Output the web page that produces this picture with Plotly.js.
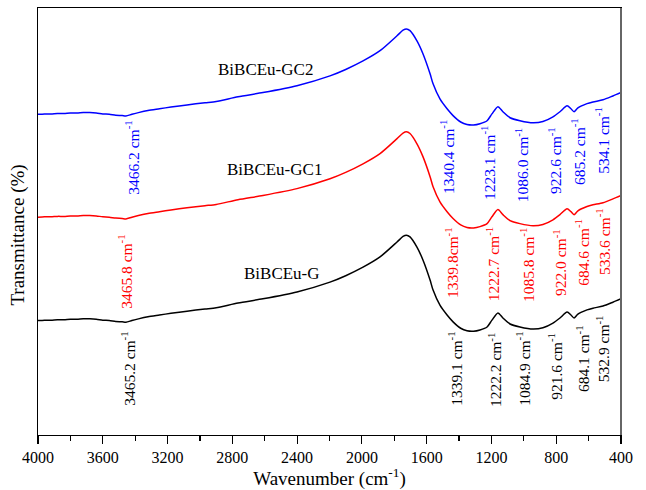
<!DOCTYPE html>
<html>
<head>
<meta charset="utf-8">
<script src="https://cdn.plot.ly/plotly-3.0.1.min.js"></script>
<style>html,body{margin:0;padding:0;background:#fff;}#chart{width:646px;height:490px;}</style>
</head>
<body>
<div id="chart"></div>
<script>
// Wavenumber grid (cm-1)
const wavenumber = [4000,3960,3920,3880,3840,3800,3760,3720,3680,3640,3600,3560,3520,3480,3457,3420,3380,3321,3250,3179,3080,2969,2900,2765,2611,2401,2197,2100,1993,1888,1783,1746,1725,1703,1660,1623,1579,1561,1518,1474,1437,1390,1351,1310,1271,1227,1197,1160,1129,1085,1024,943,882,820,777,733,709,690,666,610,573,511,450,400];

const seriesNames = ["BiBCEu-G","BiBCEu-GC1","BiBCEu-GC2"];
const seriesColors = ["#000000","#ff0000","#0000ff"];

const transG = [26.8,26.9,26.9,27.0,27.0,27.1,27.1,27.2,27.2,27.1,26.9,26.8,26.6,26.5,26.4,26.8,27.2,27.7,28.1,28.5,29.0,29.5,29.8,30.9,31.9,33.5,35.8,37.3,39.3,41.7,45.2,46.5,46.8,46.4,44.0,41.0,36.3,34.0,30.4,28.1,26.5,25.0,24.4,24.3,24.6,25.3,26.9,28.6,27.4,26.0,25.3,24.8,25.1,26.2,27.4,28.8,28.1,27.4,28.3,29.3,29.7,30.2,31.1,31.9];

const transGC1 = [51.0,51.1,51.1,51.2,51.2,51.3,51.3,51.4,51.4,51.3,51.1,51.0,50.8,50.7,50.6,51.0,51.4,51.9,52.3,52.7,53.2,53.7,54.0,55.1,56.1,57.7,60.0,61.5,63.5,65.9,69.4,70.7,71.0,70.6,68.2,65.2,60.5,58.2,54.6,52.3,50.7,49.2,48.6,48.5,48.8,49.5,51.1,52.8,51.6,50.2,49.5,49.0,49.3,50.4,51.6,53.0,52.3,51.6,52.5,53.5,53.9,54.4,55.3,56.1];

const transGC2 = [75.1,75.2,75.2,75.3,75.3,75.4,75.4,75.5,75.5,75.4,75.2,75.1,74.9,74.8,74.7,75.1,75.5,76.0,76.4,76.8,77.3,77.8,78.1,79.2,80.2,81.8,84.1,85.6,87.6,90.0,93.5,94.8,95.1,94.7,92.3,89.3,84.6,82.3,78.7,76.4,74.8,73.3,72.7,72.6,72.9,73.6,75.2,76.9,75.7,74.3,73.6,73.1,73.4,74.5,75.7,77.1,76.4,75.7,76.6,77.6,78.0,78.5,79.4,80.2];

// Peak labels (text) per series
const peaksG   = ["3465.2 cm","1339.1 cm","1222.2 cm","1084.9 cm","921.6 cm","684.1 cm","532.9 cm"];
const peaksGC1 = ["3465.8 cm","1339.8cm","1222.7 cm","1085.8 cm","922.0 cm","684.6 cm","533.6 cm"];
const peaksGC2 = ["3466.2 cm","1340.4 cm","1223.1 cm","1086.0 cm","922.6 cm","685.2 cm","534.1 cm"];

// label placement (layout only)
const posG   = [[3444,15.5],[1425,15.5],[1178,15.2],[1005,15.5],[808,16.2],[635,18.0],[511,20.1]];
const posGC1 = [[3463,38.2],[1444,40.5],[1190,40.0],[980,39.8],[777,40.5],[641,42.9],[511,45.2]];
const posGC2 = [[3420,64.9],[1474,65.1],[1221,63.7],[1011,63.2],[808,64.4],[665,66.3],[517,68.9]];
const namePos = [[2493,37.9],[2537,62.1],[2598,85.7]];

const FONT = "Liberation Serif, Times New Roman, serif";
const ys = [transG, transGC1, transGC2];
const traces = ys.map((y,i)=>({
  x: wavenumber, y: y, type:'scatter', mode:'lines', name: seriesNames[i],
  line:{color: seriesColors[i], width:1.5, shape:'spline', smoothing:0.7},
  hoverinfo:'skip'
}));

const annotations = [];
[[peaksG,posG,seriesColors[0]],[peaksGC1,posGC1,seriesColors[1]],[peaksGC2,posGC2,seriesColors[2]]].forEach(([labels,pos,col])=>{
  labels.forEach((t,j)=>{
    annotations.push({x:pos[j][0], y:pos[j][1], xref:'x', yref:'y', text: t+'<sup>-1</sup>',
      textangle:-90, showarrow:false, font:{family:FONT, size:15.5, color:col}});
  });
});
seriesNames.forEach((n,i)=>{
  annotations.push({x:namePos[i][0], y:namePos[i][1], xref:'x', yref:'y', text:n, showarrow:false,
    font:{family:FONT, size:17, color:'#000'}});
});
// y-axis title placed as in the reference (slightly below centre)
annotations.push({xref:'paper', yref:'paper', x:0, y:0.467, xanchor:'center', yanchor:'middle', xshift:-20,
  text:'Transmittance (%)', textangle:-90, showarrow:false, font:{family:FONT, size:19, color:'#000'}});

const layout = {
  width:646, height:490,
  margin:{l:38, r:25, t:8, b:55},
  paper_bgcolor:'#fff', plot_bgcolor:'#fff',
  showlegend:false,
  font:{family:FONT, color:'#000'},
  xaxis:{
    range:[4000,400], dtick:400, tick0:400,
    showgrid:false, zeroline:false,
    showline:true, linecolor:'#000', linewidth:1.2, mirror:true,
    ticks:'outside', ticklen:8, tickwidth:1.2, tickcolor:'#000',
    minor:{dtick:200, ticks:'outside', ticklen:5, tickwidth:1.2, tickcolor:'#000', showgrid:false},
    tickfont:{family:FONT, size:16, color:'#000'},
    title:{text:'Wavenumber (cm<sup>-1</sup>)', font:{family:FONT, size:19, color:'#000'}, standoff:5}
  },
  yaxis:{
    range:[0,100], showgrid:false, zeroline:false,
    showline:true, linecolor:'#000', linewidth:1.2, mirror:true,
    ticks:'', showticklabels:false
  },
  shapes:[
    {type:'line', xref:'paper', yref:'paper', x0:1, x1:1, y0:0, y1:1, line:{color:'#666', width:2}}
  ],
  annotations: annotations
};

Plotly.newPlot('chart', traces, layout, {staticPlot:true, displayModeBar:false});
</script>
</body>
</html>
